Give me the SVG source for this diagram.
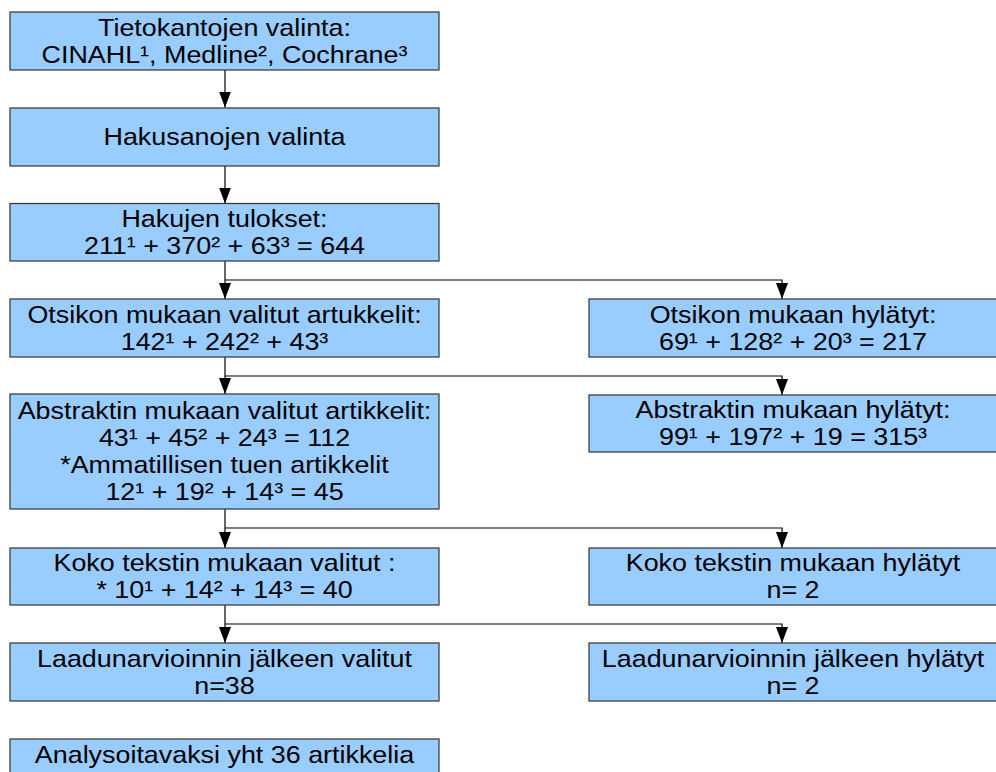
<svg xmlns="http://www.w3.org/2000/svg" width="996" height="772" viewBox="0 0 996 772">
  <style>
    .box { fill: #99ccff; stroke: #333333; stroke-width: 1.2; }
    .lbl { font-family: "Liberation Sans", Arial, sans-serif; font-size: 24px; fill: #000000; text-anchor: middle; }
    .wire { fill: none; stroke: #000000; stroke-width: 1.2; }
  </style>
  <defs>
    <marker id="arrow" markerUnits="userSpaceOnUse" markerWidth="16" markerHeight="12" refX="16" refY="6" orient="auto" viewBox="0 0 16 12">
      <path d="M0,0 L16,6 L0,12 Z" fill="#000000"/>
    </marker>
  </defs>

  <rect width="996" height="772" fill="#ffffff"/>

  <!-- connectors: main flow down the left column, rejections branch to the right -->
  <g id="connectors">
    <path class="wire" d="M225,70 V107.5" marker-end="url(#arrow)"/>
    <path class="wire" d="M225,166 V203.5" marker-end="url(#arrow)"/>
    <path class="wire" d="M225,261 V299" marker-end="url(#arrow)"/>
    <path class="wire" d="M225,280 H782 V299" marker-end="url(#arrow)"/>
    <path class="wire" d="M225,357 V394" marker-end="url(#arrow)"/>
    <path class="wire" d="M225,376 H782 V395" marker-end="url(#arrow)"/>
    <path class="wire" d="M225,509 V548" marker-end="url(#arrow)"/>
    <path class="wire" d="M225,528 H782 V548" marker-end="url(#arrow)"/>
    <path class="wire" d="M225,605 V643" marker-end="url(#arrow)"/>
    <path class="wire" d="M225,624 H782 V643" marker-end="url(#arrow)"/>
  </g>

  <!-- left column (labels slightly widened horizontally) -->
  <g id="tietokannat">
    <rect class="box" x="10" y="12" width="429" height="58"/>
    <g transform="translate(224.5 0) scale(1.12 1)">
      <text class="lbl" x="0" y="36">Tietokantojen valinta:</text>
      <text class="lbl" x="0" y="63">CINAHL¹, Medline², Cochrane³</text>
    </g>
  </g>
  <g id="hakusanat">
    <rect class="box" x="10" y="108" width="429" height="58"/>
    <g transform="translate(224.5 0) scale(1.12 1)">
      <text class="lbl" x="0" y="145">Hakusanojen valinta</text>
    </g>
  </g>
  <g id="hakutulokset">
    <rect class="box" x="10" y="203.5" width="429" height="57.5"/>
    <g transform="translate(224.5 0) scale(1.12 1)">
      <text class="lbl" x="0" y="227.5">Hakujen tulokset:</text>
      <text class="lbl" x="0" y="254.5">211¹ + 370² + 63³ = 644</text>
    </g>
  </g>
  <g id="otsikko-valitut">
    <rect class="box" x="10" y="299" width="429" height="58"/>
    <g transform="translate(224.5 0) scale(1.12 1)">
      <text class="lbl" x="0" y="323">Otsikon mukaan valitut artukkelit:</text>
      <text class="lbl" x="0" y="350">142¹ + 242² + 43³</text>
    </g>
  </g>
  <g id="abstrakti-valitut">
    <rect class="box" x="10" y="394" width="429" height="115"/>
    <g transform="translate(224.5 0) scale(1.12 1)">
      <text class="lbl" x="0" y="419.5">Abstraktin mukaan valitut artikkelit:</text>
      <text class="lbl" x="0" y="446.5">43¹ + 45² + 24³ = 112</text>
      <text class="lbl" x="0" y="473.5">*Ammatillisen tuen artikkelit</text>
      <text class="lbl" x="0" y="500.5">12¹ + 19² + 14³ = 45</text>
    </g>
  </g>
  <g id="kokoteksti-valitut">
    <rect class="box" x="10" y="548" width="429" height="57"/>
    <g transform="translate(224.5 0) scale(1.12 1)">
      <text class="lbl" x="0" y="571.5">Koko tekstin mukaan valitut :</text>
      <text class="lbl" x="0" y="598.5">* 10¹ + 14² + 14³ = 40</text>
    </g>
  </g>
  <g id="laatu-valitut">
    <rect class="box" x="10" y="643" width="429" height="58"/>
    <g transform="translate(224.5 0) scale(1.12 1)">
      <text class="lbl" x="0" y="667">Laadunarvioinnin jälkeen valitut</text>
      <text class="lbl" x="0" y="694">n=38</text>
    </g>
  </g>
  <g id="analysoitavat">
    <rect class="box" x="10" y="739" width="429" height="45"/>
    <g transform="translate(224.5 0) scale(1.12 1)">
      <text class="lbl" x="0" y="763">Analysoitavaksi yht 36 artikkelia</text>
    </g>
  </g>

  <!-- right column -->
  <g id="otsikko-hylatyt">
    <rect class="box" x="589" y="299" width="408" height="58"/>
    <g transform="translate(793 0) scale(1.12 1)">
      <text class="lbl" x="0" y="323">Otsikon mukaan hylätyt:</text>
      <text class="lbl" x="0" y="350">69¹ + 128² + 20³ = 217</text>
    </g>
  </g>
  <g id="abstrakti-hylatyt">
    <rect class="box" x="589" y="395" width="408" height="57"/>
    <g transform="translate(793 0) scale(1.12 1)">
      <text class="lbl" x="0" y="418.5">Abstraktin mukaan hylätyt:</text>
      <text class="lbl" x="0" y="445.5">99¹ + 197² + 19 = 315³</text>
    </g>
  </g>
  <g id="kokoteksti-hylatyt">
    <rect class="box" x="589" y="548" width="408" height="57"/>
    <g transform="translate(793 0) scale(1.12 1)">
      <text class="lbl" x="0" y="571.5">Koko tekstin mukaan hylätyt</text>
      <text class="lbl" x="0" y="598.5">n= 2</text>
    </g>
  </g>
  <g id="laatu-hylatyt">
    <rect class="box" x="589" y="643" width="408" height="58"/>
    <g transform="translate(793 0) scale(1.12 1)">
      <text class="lbl" x="0" y="667">Laadunarvioinnin jälkeen hylätyt</text>
      <text class="lbl" x="0" y="694">n= 2</text>
    </g>
  </g>
</svg>
